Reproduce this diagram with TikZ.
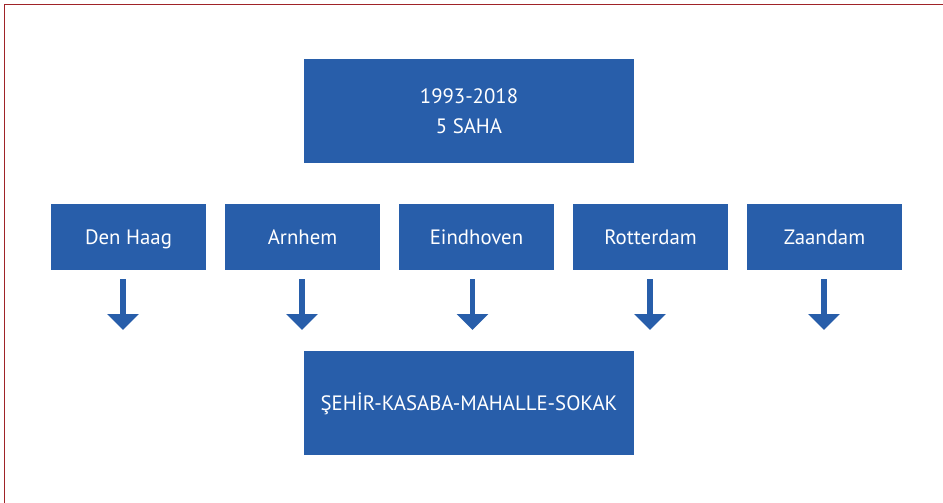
\documentclass[tikz,border=0pt]{standalone}
\usepackage{fontspec}
\setmainfont{PT Sans}
\usepackage{xcolor}
\usetikzlibrary{positioning, arrows.meta}
\definecolor{boxblue}{RGB}{40,94,170}
\definecolor{framered}{RGB}{160,35,40}

\begin{document}
\begin{tikzpicture}[x=1pt, y=1pt,
    bluebox/.style={rectangle, fill=boxblue, text=white, inner sep=0pt, outer sep=0pt,
    align=center, font=\fontsize{20.8}{30}\selectfont},
    mainbox/.style={bluebox, minimum width=330pt, minimum height=104pt},
    oneline/.style={text height=14.6pt, text depth=0pt},
    citybox/.style={bluebox, oneline, minimum width=155pt, minimum height=66pt},
    flow/.style={-{Triangle[length=16pt, width=31pt]}, line width=5.3pt, draw=boxblue},
    frame/.style={draw=framered, line width=1.3pt}
]
\useasboundingbox (0,0) rectangle (943,-503);

\draw[frame] (4.4,-503) -- (4.4,-4.8) -- (943,-4.8);

\node[mainbox] (period) at (469,-111) {1993-2018\\5 SAHA};

\node[citybox] (denhaag) at (128.5,-237) {Den Haag};
\node[citybox, right=19pt of denhaag] (arnhem) {Arnhem};
\node[citybox, right=19pt of arnhem] (eindhoven) {Eindhoven};
\node[citybox, right=19pt of eindhoven] (rotterdam) {Rotterdam};
\node[citybox, right=19pt of rotterdam] (zaandam) {Zaandam};

\node[mainbox, oneline, below=188pt of period] (scale) {ŞEHİR-KASABA-MAHALLE-SOKAK};

% arrows between the rows
\coordinate (denhaagtop) at ([xshift=-5.5pt, yshift=-9pt]denhaag.south);
\coordinate (arnhemtop) at ([xshift=-0.5pt, yshift=-9pt]arnhem.south);
\coordinate (eindhoventop) at ([xshift=-4pt, yshift=-9pt]eindhoven.south);
\coordinate (rotterdamtop) at ([xshift=-0.5pt, yshift=-9pt]rotterdam.south);
\coordinate (zaandamtop) at ([xshift=-0.5pt, yshift=-9pt]zaandam.south);

\foreach \city in {denhaag, arnhem, eindhoven, rotterdam, zaandam}
    \draw[flow] (\city top) -- ++(0,-51);

\end{tikzpicture}
\end{document}
